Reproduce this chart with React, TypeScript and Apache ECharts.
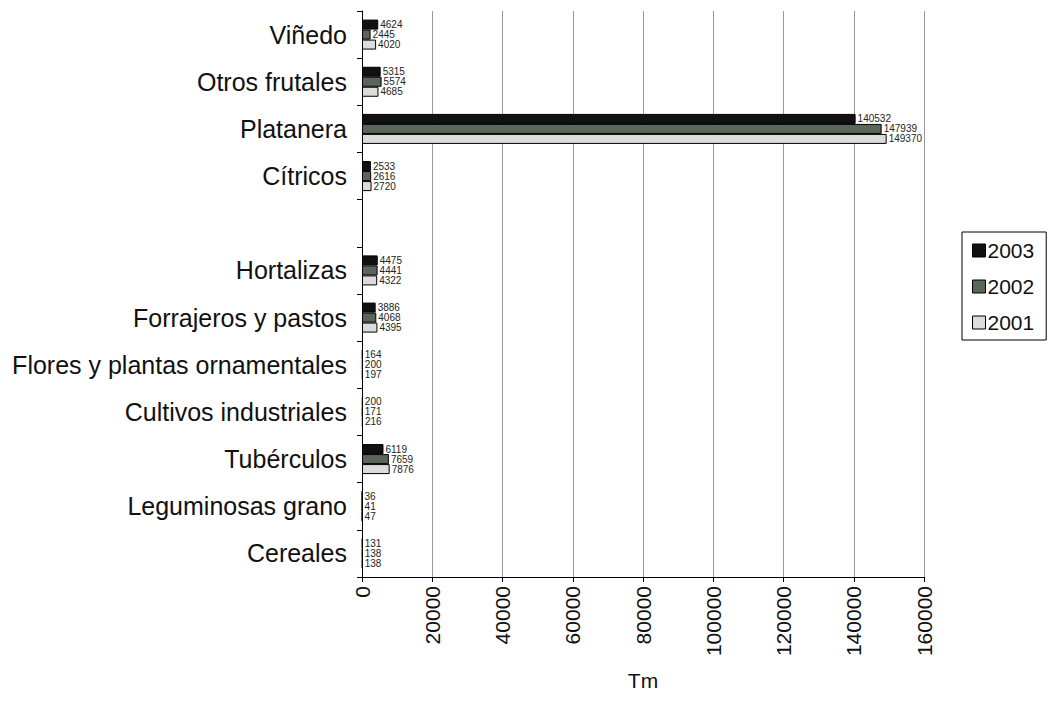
import React, { useEffect, useRef } from "react";
import * as echarts from "echarts";

const categories = [
  "Viñedo",
  "Otros frutales",
  "Platanera",
  "Cítricos",
  "",
  "Hortalizas",
  "Forrajeros y pastos",
  "Flores y plantas ornamentales",
  "Cultivos industriales",
  "Tubérculos",
  "Leguminosas grano",
  "Cereales",
];
const v2003 = [4624, 5315, 140532, 2533, null, 4475, 3886, 164, 200, 6119, 36, 131];
const v2002 = [2445, 5574, 147939, 2616, null, 4441, 4068, 200, 171, 7659, 41, 138];
const v2001 = [4020, 4685, 149370, 2720, null, 4322, 4395, 197, 216, 7876, 47, 138];
const xTicks = [0, 20000, 40000, 60000, 80000, 100000, 120000, 140000, 160000];

export default function App() {
  const ref = useRef<HTMLDivElement>(null);
  useEffect(() => {
    const chart = echarts.init(ref.current!, null, { renderer: "svg" });
    const label = {
      show: true,
      position: "right" as const,
      distance: 2,
      fontSize: 10,
      fontFamily: "Liberation Sans, Arial, sans-serif",
      color: "#222",
    };
    const mk = (name: string, data: any[], color: string) => ({
      name,
      type: "bar",
      data,
      barWidth: 10,
      barGap: "0%",
      itemStyle: { color, borderColor: "#000", borderWidth: 1 },
      label,
    });
    chart.setOption({
      animation: false,
      textStyle: { fontFamily: "Liberation Sans, Arial, sans-serif" },
      grid: { left: 362, right: 139, top: 11, bottom: 144 },
      legend: {
        orient: "vertical",
        left: 962,
        top: 232,
        icon: "rect",
        itemWidth: 13,
        itemHeight: 13,
        itemGap: 15,
        padding: [8, 12, 7, 10],
        borderColor: "#000",
        borderWidth: 1,
        textStyle: { fontSize: 21, color: "#111", padding: [0, 0, 0, -3] },
        itemStyle: { borderColor: "#000", borderWidth: 1 },
        data: ["2003", "2002", "2001"],
      },
      xAxis: {
        type: "value",
        min: 0,
        max: 160000,
        interval: 20000,
        name: "Tm",
        nameLocation: "middle",
        nameGap: 93,
        nameTextStyle: { fontSize: 21, color: "#111" },
        axisLine: { show: true, lineStyle: { color: "#000" } },
        axisTick: { show: true, lineStyle: { color: "#000" } },
        axisLabel: {
          rotate: 90,
          fontSize: 21,
          color: "#111",
          margin: 9,
          formatter: (v: number) => (xTicks.includes(v) ? String(v) : ""),
        },
        splitLine: { show: true, lineStyle: { color: "#999" } },
      },
      yAxis: {
        type: "category",
        data: categories,
        inverse: true,
        axisLine: { show: true, lineStyle: { color: "#000" } },
        axisTick: { show: true, lineStyle: { color: "#000" } },
        axisLabel: { fontSize: 25, color: "#111", margin: 15 },
      },
      series: [
        mk("2003", v2003, "#111111"),
        mk("2002", v2002, "#5b665b"),
        mk("2001", v2001, "#dcdcdc"),
      ],
    });
    return () => chart.dispose();
  }, []);
  return <div ref={ref} style={{ width: 1063, height: 721, margin: -8 }} />;
}
